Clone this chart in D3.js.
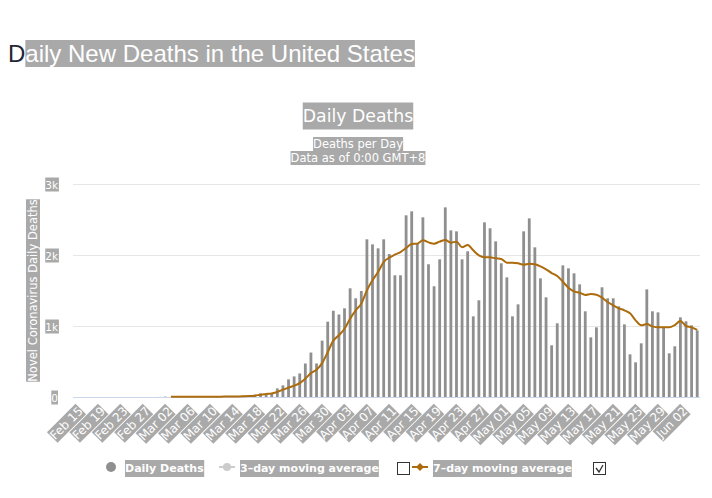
<!DOCTYPE html>
<html><head><meta charset="utf-8">
<script src="https://cdn.jsdelivr.net/npm/d3@7"></script>
<style>body{margin:0;background:#fff}svg{display:block}</style>
</head><body><svg id="c" width="712" height="498"></svg>
<script>
// ---------- data ----------
const startDate = "2020-02-15";
const dayCount = 112; // Feb 15 .. Jun 05
const tickLabels = ["Feb 15","Feb 19","Feb 23","Feb 27","Mar 02","Mar 06","Mar 10","Mar 14","Mar 18","Mar 22","Mar 26","Mar 30","Apr 03","Apr 07","Apr 11","Apr 15","Apr 19","Apr 23","Apr 27","May 01","May 05","May 09","May 13","May 17","May 21","May 25","May 29","Jun 02"];
const dailyDeaths = [
  null,null,null,null,null,null,null,null,null,null,null,null,null,null,null,
  1,5,1,4,1,2,3,4,4,5,8,7,11,9,10,18,23,
  33,51,47,56,121,164,248,290,332,472,626,472,794,1061,1215,1162,
  1249,1531,1390,1493,2221,2150,2094,2221,2014,1714,1714,2559,2615,2155,2531,1869,
  1559,1939,2671,2347,2333,1939,2052,1136,1362,2460,2376,2192,1883,1685,1136,1305,
  2333,2516,2108,1671,1404,728,1038,1854,1812,1742,1587,1207,840,981,1545,1390,
  1390,1277,1023,601,488,756,1516,1207,1192,981,615,714,1122,1066,1009,939
];
const avg7 = [
  null,null,null,null,null,null,null,null,null,null,null,null,null,null,null,null,null,
  2,2,2,2,2,3,3,4,4,5,6,7,8,10,13,19,
  33,42,50,70,103,131,159,196,257,336,383,477,631,794,870,
  962,1103,1221,1315,1502,1643,1761,1901,1962,2005,2042,2099,2155,2160,2207,2178,
  2160,2188,2211,2174,2188,2108,2141,2066,1995,1967,1967,1953,1944,1892,1892,1883,
  1864,1878,1869,1840,1798,1746,1704,1624,1540,1488,1469,1437,1451,1441,1399,1338,
  1291,1249,1221,1178,1080,1009,1028,995,981,981,981,1014,1070,1000,981,944
];
const yTicks = [0, 1000, 2000, 3000];
const yTickLabels = ["0", "1k", "2k", "3k"];
const legendNames = ["Daily Deaths", "3\u2013day moving average", "7\u2013day moving average"];

// ---------- setup ----------
const HL = "#a9a9a9";
const BAR = "#8f8f8f";
const ORANGE = "#ac6b0c";
const FONT = "'DejaVu Sans', sans-serif";
const svg = d3.select("#c");

const start = d3.timeParse("%Y-%m-%d")(startDate);
const dates = d3.range(dayCount).map(i => d3.timeDay.offset(start, i));
const fmt = d3.timeFormat("%b %d");

const plot = {left: 73, right: 700, top: 184, bottom: 397};
const x = d3.scaleBand().domain(dates.map(fmt)).range([plot.left, plot.right]).paddingInner(0.5).paddingOuter(0.25);
const y = d3.scaleLinear().domain([0, 3000]).range([plot.bottom, plot.top]);

function hlText(parent, tx, ty, str, o) {
  const g = parent.append("g");
  const t = g.append("text").attr("x", tx).attr("y", ty).text(str)
    .attr("font-family", o.family || FONT).attr("font-size", o.size)
    .attr("font-weight", o.weight || "normal")
    .attr("text-anchor", o.anchor || "start").attr("fill", "#fff");
  const b = t.node().getBBox();
  const h = o.h || b.height, padX = o.padX || 0;
  const cy = b.y + b.height / 2 + (o.dyBox || 0);
  g.insert("rect", "text").attr("x", b.x - padX).attr("y", cy - h / 2)
    .attr("width", b.width + 2 * padX).attr("height", h).attr("fill", HL);
  return g;
}

// ---------- page title ----------
const tD = svg.append("text").attr("x", 8).attr("y", 62).text("D")
  .attr("font-family", "'Liberation Sans', Arial, sans-serif").attr("font-size", 24).attr("fill", "#1e2536");
const wD = tD.node().getComputedTextLength();
hlText(svg, 8 + wD, 62, "aily New Deaths in the United States", {family: "'Liberation Sans', Arial, sans-serif", size: 24, h: 27, dyBox: 0});

// ---------- chart titles ----------
hlText(svg, 358, 122, "Daily Deaths", {size: 17.3, anchor: "middle", h: 27});
hlText(svg, 358, 148, "Deaths per Day", {size: 11.5, anchor: "middle", h: 14});
hlText(svg, 358, 162, "Data as of 0:00 GMT+8", {size: 11.5, anchor: "middle", h: 14});

// ---------- gridlines ----------
svg.append("g").selectAll("line").data(yTicks.slice(1)).join("line")
  .attr("x1", plot.left).attr("x2", plot.right)
  .attr("y1", d => Math.round(y(d)) + 0.5).attr("y2", d => Math.round(y(d)) + 0.5)
  .attr("stroke", "#e6e6e6").attr("stroke-width", 1);

// y axis labels
const yAxis = d3.axisLeft(y).tickValues(yTicks).tickFormat((d, i) => yTickLabels[i]).tickSize(0);
const yg = svg.append("g").attr("transform", `translate(${plot.left},0)`).call(yAxis);
yg.select(".domain").remove();
yg.selectAll(".tick text").remove();
yg.selectAll(".tick").each(function(d, i) {
  hlText(d3.select(this), -15, 4, yTickLabels[i], {size: 10.5, anchor: "end", h: 14});
});

// y axis title
const yt = svg.append("g").attr("transform", "translate(37,290.5) rotate(-90)");
hlText(yt, 0, 0, "Novel Coronavirus Daily Deaths", {size: 11.5, anchor: "middle", h: 14});

// ---------- bars ----------
const bw = 2.8;
svg.append("g").selectAll("rect").data(dates.map((d, i) => ({k: fmt(d), v: dailyDeaths[i]})).filter(d => d.v != null))
  .join("rect")
  .attr("x", d => x(d.k) + x.bandwidth() / 2 - bw / 2)
  .attr("width", bw)
  .attr("y", d => y(d.v))
  .attr("height", d => y(0) - y(d.v))
  .attr("fill", BAR);

// x axis line
svg.append("line").attr("x1", plot.left).attr("x2", plot.right)
  .attr("y1", plot.bottom + 0.5).attr("y2", plot.bottom + 0.5)
  .attr("stroke", "#ccd6eb");

// ---------- 7 day line ----------
const lineData = dates.map((d, i) => ({k: fmt(d), v: avg7[i]})).filter(d => d.v != null);
svg.append("path").datum(lineData)
  .attr("d", d3.line().x(d => x(d.k) + x.bandwidth() / 2).y(d => y(d.v)).curve(d3.curveMonotoneX))
  .attr("fill", "none").attr("stroke", ORANGE).attr("stroke-width", 2);

// ---------- x axis labels ----------
const xAxis = d3.axisBottom(x).tickValues(tickLabels).tickSize(0);
const xg = svg.append("g").attr("transform", `translate(0,${plot.bottom})`).call(xAxis);
xg.select(".domain").remove();
xg.selectAll(".tick text").remove();
xg.selectAll(".tick").each(function(d) {
  const g = d3.select(this).append("g").attr("transform", "translate(5,12) rotate(-45)");
  hlText(g, 0, 4, d, {size: 12, anchor: "end", h: 15});
});

// ---------- legend ----------
const lg = svg.append("g");
lg.append("circle").attr("cx", 111).attr("cy", 467).attr("r", 5).attr("fill", BAR);
hlText(lg, 125, 472, legendNames[0], {size: 11, weight: "bold", h: 17});
lg.append("line").attr("x1", 219).attr("x2", 235).attr("y1", 467).attr("y2", 467).attr("stroke", "#cccccc").attr("stroke-width", 2);
lg.append("circle").attr("cx", 227).attr("cy", 467).attr("r", 4).attr("fill", "#cccccc");
hlText(lg, 240, 472, legendNames[1], {size: 11, weight: "bold", h: 17});
lg.append("rect").attr("x", 397.5).attr("y", 462.5).attr("width", 12).attr("height", 12).attr("fill", "#fff").attr("stroke", "#333");
lg.append("line").attr("x1", 412).attr("x2", 428).attr("y1", 467).attr("y2", 467).attr("stroke", ORANGE).attr("stroke-width", 2);
lg.append("path").attr("d", "M420,463 L424,467 L420,471 L416,467 Z").attr("fill", ORANGE);
hlText(lg, 433, 472, legendNames[2], {size: 11, weight: "bold", h: 17});
lg.append("rect").attr("x", 593.5).attr("y", 462.5).attr("width", 12).attr("height", 12).attr("fill", "#fff").attr("stroke", "#333");
lg.append("path").attr("d", "M596,468 L599,472 L603,465").attr("fill", "none").attr("stroke", "#333").attr("stroke-width", 1.3);
</script>
</body></html>
